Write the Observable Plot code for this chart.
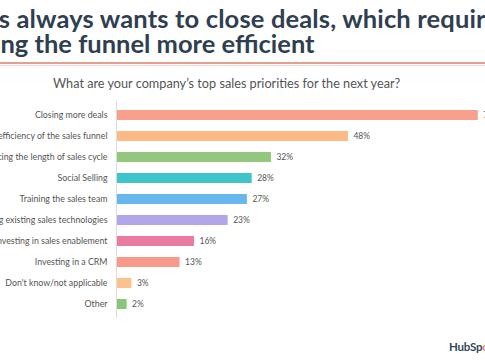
<!DOCTYPE html>
<html>
<head>
<meta charset="utf-8">
<script src="https://cdn.jsdelivr.net/npm/d3@7"></script>
<script src="https://cdn.jsdelivr.net/npm/@observablehq/plot@0.6"></script>
<style>
  html, body { margin: 0; padding: 0; background: #fff; }
  #page { position: relative; width: 485px; height: 360px; overflow: hidden; background: #fff; font-family: Lato, "Open Sans", sans-serif; }
  #header { position: absolute; left: 0; top: 0; }
  #chart { position: absolute; left: 0; top: 95px; }
  #logo { position: absolute; left: 449px; top: 340px; font: 700 11.5px Lato, sans-serif; color: #33475b; white-space: nowrap; letter-spacing: -0.2px; }
  #logo span { color: #f57f5b; }
</style>
</head>
<body>
<div id="page">
  <svg id="header" width="485" height="95" style="overflow:hidden">
    <text id="t1" x="-48.5" y="27.5" font-family="Lato" font-weight="700" font-size="25.5" letter-spacing="0.15" fill="#2f3f51">Sales always wants to close deals, which requires</text>
    <text id="t2" x="-54" y="52.7" font-family="Lato" font-weight="700" font-size="25.5" fill="#2f3f51">making the funnel more efficient</text>
    <line x1="0" x2="485" y1="63" y2="63" stroke="#e2a08c" stroke-width="2"></line>
    <line x1="0" x2="485" y1="65.5" y2="65.5" stroke="#efdcd5" stroke-width="1"></line>
    <text x="53" y="87.5" font-family="Lato" font-size="12.7" fill="#555">What are your company’s top sales priorities for the next year?</text>
  </svg>
  <div id="chart"></div>
  <div id="logo">HubSp<span>o</span>t</div>
</div>
<script>
const labels = [
  "Closing more deals",
  "Increasing the efficiency of the sales funnel",
  "Reducing the length of sales cycle",
  "Social Selling",
  "Training the sales team",
  "Improving existing sales technologies",
  "Investing in sales enablement",
  "Investing in a CRM",
  "Don't know/not applicable",
  "Other"
];
const values = [75, 48, 32, 28, 27, 23, 16, 13, 3, 2];
const colors = ["#f9a08c", "#fbb985", "#93c77d", "#3fc4cb", "#68b6ee", "#b3a5ea", "#e97ba1", "#f8998a", "#fbc28c", "#8ac57b"];

const data = labels.map((label, i) => ({label, value: values[i]}));

const chart = Plot.plot({
  width: 485,
  height: 265,
  marginTop: 6.2,
  marginBottom: 42.1,
  marginLeft: 117,
  marginRight: 0,
  style: {fontFamily: "Lato, sans-serif", fontSize: "8.8px", color: "#555", background: "transparent", overflow: "visible"},
  x: {axis: null, domain: [0, 76.5]},
  y: {domain: labels, label: null, tickSize: 0, tickPadding: 10, paddingInner: 0.54, paddingOuter: 0.27},
  color: {domain: labels, range: colors},
  marks: [
    Plot.barX(data, {x: "value", y: "label", fill: "label"}),
    Plot.ruleX([0], {stroke: "#dcdcdc", dx: -1}),
    Plot.text(data, {x: "value", y: "label", text: d => d.value + "%", textAnchor: "start", dx: 5, fontSize: 8.5, fill: "#555"})
  ]
});
document.getElementById("chart").appendChild(chart);
</script>
</body>
</html>
